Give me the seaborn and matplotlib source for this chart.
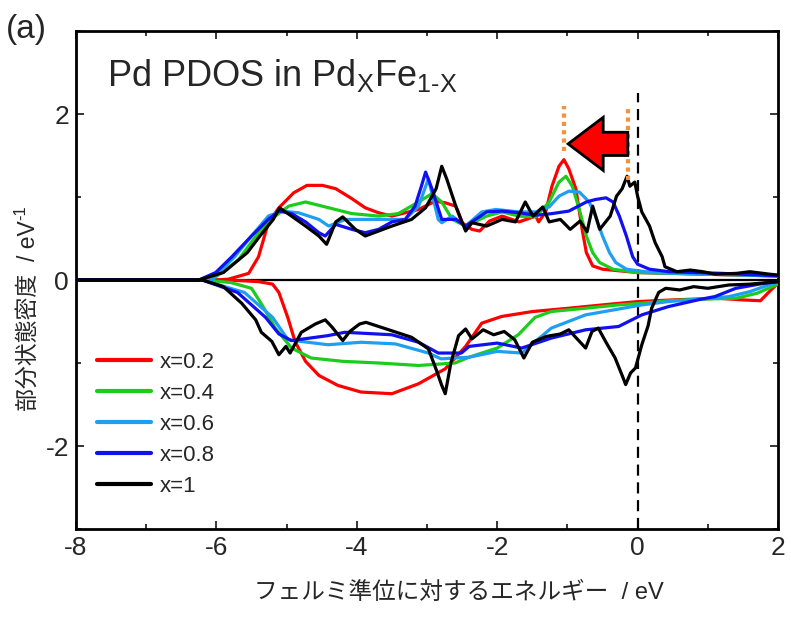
import numpy as np
import pandas as pd
import matplotlib
matplotlib.use("Agg")
import matplotlib.pyplot as plt
from matplotlib.patches import FancyArrow
from matplotlib.ticker import MultipleLocator
import seaborn as sns

# ---------------- data ----------------
LABELS = ["x=0.2", "x=0.4", "x=0.6", "x=0.8", "x=1"]
COLORS = ["#ff0000", "#1ccc1c", "#1e9ff2", "#1010f0", "#000000"]

# x = 0.2 (red)
E_UP_02 = [-8.0, -6.5, -6.0, -5.83, -5.54, -5.4, -5.26, -5.11, -4.9, -4.71, -4.49, -4.3, -4.07, -3.88, -3.69, -3.5, -3.31,
           -3.12, -2.88, -2.74, -2.59, -2.5, -2.36, -2.25, -2.11, -1.93, -1.69, -1.45, -1.41, -1.31, -1.22, -1.12, -1.05,
           -0.98, -0.88, -0.79, -0.73, -0.64, -0.5, 0.0, 0.93, 1.88, 2.0]
UP_02 = [0.0, 0.0, 0.0, 0.01, 0.08, 0.28, 0.69, 0.87, 1.05, 1.14, 1.14, 1.1, 0.98, 0.87, 0.81, 0.77, 0.81,
         0.85, 0.95, 0.93, 0.89, 0.69, 0.61, 0.59, 0.71, 0.77, 0.7, 0.77, 0.7, 0.82, 1.13, 1.37, 1.45,
         1.34, 1.1, 0.61, 0.33, 0.17, 0.13, 0.09, 0.07, 0.05, 0.05]
E_DN_02 = [-8.0, -6.0, -5.6, -5.4, -5.2, -5.11, -4.98, -4.88, -4.73, -4.54, -4.27, -3.94, -3.5, -3.12, -2.74, -2.45,
           -2.22, -1.94, -1.5, -0.98, -0.5, 0.0, 0.5, 1.15, 1.5, 1.75, 1.9, 2.0]
DN_02 = [0.0, 0.0, -0.01, -0.02, -0.05, -0.15, -0.46, -0.74, -0.98, -1.15, -1.27, -1.35, -1.37, -1.25, -1.07, -0.8,
         -0.52, -0.44, -0.38, -0.34, -0.3, -0.26, -0.24, -0.22, -0.24, -0.25, -0.12, -0.04]

# x = 0.4 (green)
E_UP_04 = [-8.0, -6.07, -5.69, -5.4, -5.16, -4.97, -4.73, -4.4, -4.07, -3.69, -3.41, -3.12, -2.93, -2.79, -2.64,
           -2.45, -2.15, -1.93, -1.69, -1.45, -1.26, -1.12, -1.02, -0.93, -0.83, -0.73, -0.64, -0.54, -0.35, 0.0,
           1.0, 2.0]
UP_04 = [0.0, 0.0, 0.24, 0.57, 0.77, 0.89, 0.94, 0.87, 0.8, 0.77, 0.8, 0.94, 1.04, 0.94, 0.73,
         0.65, 0.77, 0.82, 0.77, 0.76, 0.94, 1.18, 1.25, 1.13, 0.85, 0.53, 0.33, 0.21, 0.13, 0.09,
         0.07, 0.05]
E_DN_04 = [-8.0, -6.2, -5.8, -5.5, -5.35, -5.16, -4.93, -4.65, -4.2, -3.69, -3.12, -2.6, -2.4, -2.0, -1.7, -1.46,
           -1.23, -0.74, -0.27, 0.06, 0.44, 0.91, 1.4, 1.7, 2.0]
DN_04 = [0.0, 0.0, -0.03, -0.1, -0.3, -0.58, -0.82, -0.94, -0.98, -1.0, -1.03, -1.0, -0.93, -0.82, -0.66, -0.45,
         -0.38, -0.34, -0.3, -0.28, -0.25, -0.23, -0.22, -0.16, -0.05]

# x = 0.6 (light blue)
E_UP_06 = [-8.0, -6.07, -5.74, -5.5, -5.26, -5.07, -4.83, -4.54, -4.4, -4.16, -3.88, -3.59, -3.31, -3.12, -2.98,
           -2.84, -2.79, -2.64, -2.45, -2.22, -2.02, -1.69, -1.45, -1.26, -1.12, -0.98, -0.83, -0.69, -0.6, -0.5,
           -0.4, -0.31, -0.16, 0.21, 1.0, 2.0]
UP_06 = [0.0, 0.0, 0.28, 0.53, 0.77, 0.83, 0.81, 0.73, 0.65, 0.73, 0.73, 0.73, 0.73, 0.89, 1.22,
         0.73, 0.69, 0.77, 0.65, 0.82, 0.85, 0.82, 0.82, 0.88, 1.01, 1.07, 1.06, 0.94, 0.77, 0.53,
         0.33, 0.21, 0.13, 0.09, 0.07, 0.05]
E_DN_06 = [-8.0, -6.2, -5.6, -5.2, -4.98, -4.7, -4.41, -3.94, -3.45, -2.98, -2.8, -2.4, -2.0, -1.65, -1.23, -0.74,
           -0.27, 0.06, 0.44, 0.91, 1.3, 1.6, 1.9, 2.0]
DN_06 = [0.0, 0.0, -0.15, -0.45, -0.72, -0.75, -0.78, -0.75, -0.77, -0.88, -0.95, -0.93, -0.86, -0.88, -0.58, -0.42,
         -0.35, -0.3, -0.26, -0.23, -0.2, -0.14, -0.05, -0.03]

# x = 0.8 (blue)
E_UP_08 = [-8.0, -6.25, -6.01, -5.78, -5.5, -5.26, -5.11, -4.93, -4.73, -4.54, -4.45, -4.3, -4.07, -3.88, -3.69,
           -3.5, -3.31, -3.17, -3.08, -3.02, -2.93, -2.79, -2.59, -2.45, -2.15, -1.93, -1.69, -1.45, -1.22, -0.98,
           -0.73, -0.6, -0.45, -0.35, -0.26, -0.16, -0.07, 0.0, 0.17, 0.45, 1.2, 2.0]
UP_08 = [0.0, 0.0, 0.09, 0.28, 0.53, 0.73, 0.83, 0.8, 0.7, 0.57, 0.53, 0.67, 0.61, 0.57, 0.61,
         0.7, 0.73, 0.89, 1.13, 1.3, 1.1, 0.73, 0.73, 0.65, 0.82, 0.83, 0.81, 0.78, 0.8, 0.83,
         0.94, 0.97, 0.99, 0.94, 0.77, 0.53, 0.28, 0.19, 0.13, 0.1, 0.08, 0.05]
E_DN_08 = [-8.0, -6.2, -5.7, -5.3, -5.11, -4.93, -4.41, -4.17, -3.5, -3.12, -2.84, -2.51, -2.4, -2.0, -1.65, -1.23,
           -0.74, -0.27, 0.06, 0.44, 0.91, 1.1, 1.4, 1.8, 2.0]
DN_08 = [0.0, 0.0, -0.15, -0.45, -0.65, -0.73, -0.67, -0.63, -0.66, -0.75, -0.88, -0.88, -0.8, -0.76, -0.82, -0.7,
         -0.6, -0.56, -0.42, -0.32, -0.23, -0.2, -0.1, -0.04, -0.02]

# x = 1 (black)
E_UP_10 = [-8.0, -6.25, -5.9, -5.56, -5.38, -5.19, -5.1, -4.93, -4.73, -4.54, -4.43, -4.3, -4.2, -4.02, -3.88,
           -3.69, -3.5, -3.22, -3.02, -2.87, -2.79, -2.72, -2.59, -2.45, -2.36, -2.15, -1.93, -1.74, -1.6, -1.49,
           -1.35, -1.26, -1.1, -0.96, -0.82, -0.72, -0.64, -0.54, -0.39, -0.3, -0.22, -0.15, -0.11, -0.04, 0.0,
           0.06, 0.17, 0.25, 0.35, 0.39, 0.56, 0.75, 0.93, 1.1, 1.41, 1.6, 1.88, 2.0]
UP_10 = [0.0, 0.0, 0.09, 0.33, 0.53, 0.73, 0.87, 0.77, 0.65, 0.53, 0.43, 0.7, 0.76, 0.61, 0.53,
         0.59, 0.65, 0.73, 0.87, 1.1, 1.37, 1.22, 0.89, 0.59, 0.69, 0.65, 0.73, 0.7, 0.94, 0.77,
         0.88, 0.7, 0.73, 0.61, 0.71, 0.58, 0.89, 0.61, 0.77, 1.01, 1.1, 1.25, 1.13, 1.18, 1.01,
         0.82, 0.65, 0.45, 0.28, 0.16, 0.1, 0.12, 0.1, 0.07, 0.08, 0.1, 0.07, 0.06]
E_DN_10 = [-8.0, -6.2, -5.9, -5.64, -5.44, -5.36, -5.21, -5.11, -5.01, -4.95, -4.79, -4.59, -4.45, -4.35, -4.2,
           -4.1, -3.96, -3.87, -3.58, -3.22, -2.98, -2.86, -2.79, -2.74, -2.66, -2.55, -2.45, -2.36, -2.2, -2.05,
           -1.9, -1.75, -1.62, -1.5, -1.3, -1.1, -0.98, -0.85, -0.74, -0.65, -0.56, -0.45, -0.32, -0.22, -0.17,
           -0.1, -0.03, 0.06, 0.15, 0.2, 0.3, 0.4, 0.6, 0.8, 1.0, 1.3, 1.6, 2.0]
DN_10 = [0.0, 0.0, -0.08, -0.28, -0.48, -0.63, -0.74, -0.9, -0.8, -0.88, -0.63, -0.53, -0.48, -0.57, -0.73,
         -0.62, -0.53, -0.51, -0.59, -0.69, -0.83, -1.1, -1.27, -1.37, -1.0, -0.67, -0.59, -0.71, -0.6, -0.66,
         -0.62, -0.72, -0.94, -0.75, -0.68, -0.65, -0.6, -0.72, -0.82, -0.62, -0.58, -0.75, -0.94, -1.15, -1.26,
         -1.12, -1.06, -0.78, -0.55, -0.34, -0.15, -0.1, -0.12, -0.08, -0.1, -0.06, -0.05, -0.02]

E_UP = [E_UP_02, E_UP_04, E_UP_06, E_UP_08, E_UP_10]
UP = [UP_02, UP_04, UP_06, UP_08, UP_10]
E_DN = [E_DN_02, E_DN_04, E_DN_06, E_DN_08, E_DN_10]
DN = [DN_02, DN_04, DN_06, DN_08, DN_10]

# markers of the peak shift (red peak -> x=1 peak)
PEAK_RED_E = -1.05
PEAK_BLACK_E = -0.14

rows = []
for lab, eu, u, ed, d in zip(LABELS, E_UP, UP, E_DN, DN):
    for e, v in zip(eu, u):
        rows.append((lab, "up", e, v))
    for e, v in zip(ed, d):
        rows.append((lab, "down", e, v))
df = pd.DataFrame(rows, columns=["comp", "spin", "E", "DOS"])

# ---------------- style ----------------
sns.set_style("ticks")
plt.rcParams["font.family"] = ["Liberation Sans", "Noto Sans CJK JP", "DejaVu Sans"]
plt.rcParams["mathtext.fontset"] = "custom"
plt.rcParams["mathtext.rm"] = "Liberation Sans"
plt.rcParams["mathtext.it"] = "Liberation Sans"
plt.rcParams["axes.unicode_minus"] = False

fig = plt.figure(figsize=(7.91, 6.27), dpi=100)
ax = fig.add_axes([76 / 791, 1 - 529 / 627, 702 / 791, 498 / 627])

ax.axhline(0, color="black", lw=1.6, zorder=1)
ax.plot([0, 0], [-3, 2.25], color="black", lw=1.6, ls=(0, (5, 3)), zorder=1)

sns.lineplot(data=df, x="E", y="DOS", hue="comp", units="spin", estimator=None,
             sort=False, hue_order=LABELS, palette=COLORS, lw=2.3, ax=ax, zorder=3)

ax.set_xlim(-8, 2)
ax.set_ylim(-3, 3)
ax.xaxis.set_major_locator(MultipleLocator(2))
ax.xaxis.set_minor_locator(MultipleLocator(1))
ax.yaxis.set_major_locator(MultipleLocator(2))
ax.yaxis.set_minor_locator(MultipleLocator(1))
ax.tick_params(which="both", direction="in", top=True, right=True, width=1.3)
ax.tick_params(which="major", length=6, labelsize=19, pad=5)
ax.tick_params(which="minor", length=3.5)
for s in ax.spines.values():
    s.set_linewidth(2)
    s.set_color("black")

ax.set_xlabel("フェルミ準位に対するエネルギー  / eV", fontsize=17)
ax.xaxis.set_label_coords(0.545, -0.107)
ylab = ax.set_ylabel("部分状態密度  / eV", fontsize=16.5)
ax.yaxis.set_label_coords(-0.052, 0.428)
ax.annotate("-1", xy=(0.5, 1.0), xycoords=ylab, ha="right", va="bottom", rotation=90, fontsize=12)

# peak-shift markers
ax.vlines([PEAK_RED_E], 1.55, 2.1, colors="#f5913a", lw=3, linestyles=(0, (1, 1)), zorder=4)
ax.vlines([PEAK_BLACK_E], 1.2, 2.1, colors="#f5913a", lw=3, linestyles=(0, (1, 1)), zorder=4)
arr = FancyArrow(PEAK_BLACK_E, 1.64, PEAK_RED_E - PEAK_BLACK_E + 0.06, 0, width=0.28, head_width=0.64,
                 head_length=0.5, length_includes_head=True, fc="#ff0000", ec="black", lw=2, zorder=5)
ax.add_patch(arr)

ax.text(0.044, 0.89, "Pd PDOS in Pd$_{\\mathrm{X}}$Fe$_{\\text{1-X}}$", transform=ax.transAxes,
        fontsize=26, va="baseline", ha="left")
fig.text(0.008, 0.94, "(a)", fontsize=24, va="baseline", ha="left")

leg = ax.legend(loc="upper left", bbox_to_anchor=(0.017, 0.374), frameon=False, fontsize=16,
                handlelength=2.45, handletextpad=0.4, labelspacing=0.45, borderaxespad=0)
for h in leg.get_lines():
    h.set_linewidth(3)

fig.savefig("out.png", dpi=100)
